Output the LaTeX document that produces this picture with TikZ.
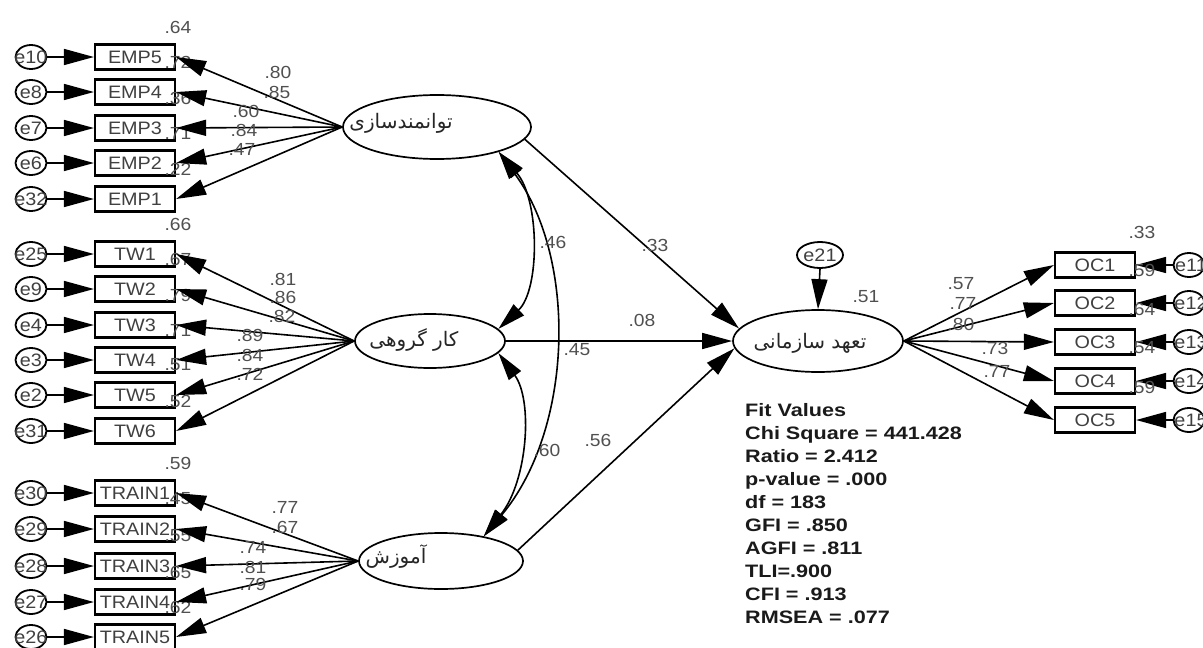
\documentclass[tikz,border=0pt]{standalone}
\usepackage{fontspec}
\setmainfont{Liberation Sans}[FakeStretch=1.1]
\newfontfamily\farsi[Script=Arabic]{DejaVu Sans}
\newfontfamily\fitfont{Liberation Sans}[FakeStretch=1.2]
\TeXXeTstate=1
\usetikzlibrary{arrows.meta,shapes.geometric}
\definecolor{lbl}{HTML}{505050}
\definecolor{txt}{HTML}{404040}
\definecolor{fitc}{HTML}{1a1a1a}
\begin{document}
\begin{tikzpicture}[x=1pt,y=-1pt,
 obs/.style={draw, line width=2.2pt, minimum width=80pt, minimum height=25pt, inner sep=0pt, font=\fontsize{18}{18}\selectfont, text=txt},
 err/.style={draw, ellipse, line width=1.8pt, minimum width=31pt, minimum height=24pt, inner sep=0pt},
 errtxt/.style={font=\fontsize{18}{18}\selectfont, text=txt, inner sep=0pt},
 lat/.style={draw, ellipse, line width=1.7pt, inner sep=0pt},
 fa/.style={font=\farsi\fontsize{20}{20}\selectfont, inner sep=0pt, text=black!85},
 num/.style={font=\fontsize{17.5}{17.5}\selectfont, text=lbl, inner sep=0pt},
 arr/.style={line width=1.6pt, -{Triangle[length=30pt,width=16pt]}},
 cov/.style={line width=1.6pt, {Triangle[length=28pt,width=15pt]}-{Triangle[length=28pt,width=15pt]}},
]
\useasboundingbox (0,0) rectangle (1203,648);
\fill[white] (0,0) rectangle (1203,648);

% latent variables
\node[lat, minimum width=188pt, minimum height=64pt] (emp) at (437,127) {};
\node[fa] (empt) at (401,123) {\beginR توانمندسازی\endR};
\node[lat, minimum width=150pt, minimum height=54pt] (tw) at (430,341) {};
\node[fa] (twt) at (414,340) {\beginR کار گروهی\endR};
\node[lat, minimum width=164pt, minimum height=56pt] (train) at (441,561) {};
\node[fa] (traint) at (396,557) {\beginR آموزش\endR};
\node[lat, minimum width=170pt, minimum height=62pt] (oc) at (818,341) {};
\node[fa] (oct) at (810,343) {\beginR تعهد سازمانی\endR};

% left indicators
\foreach \n/\t/\y/\e/\r in {emp5/EMP5/57/e10/.64, emp4/EMP4/92/e8/.72, emp3/EMP3/128/e7/.36, emp2/EMP2/163/e6/.71, emp1/EMP1/199/e32/.22,
  tw1/TW1/254/e25/.66, tw2/TW2/289/e9/.67, tw3/TW3/325/e4/.79, tw4/TW4/360/e3/.71, tw5/TW5/395/e2/.51, tw6/TW6/431/e31/.52,
  tr1/TRAIN1/493/e30/.59, tr2/TRAIN2/529/e29/.45, tr3/TRAIN3/566/e28/.55, tr4/TRAIN4/602/e27/.65, tr5/TRAIN5/637/e26/.62} {
  \node[num] (\n-r) at (178,\y-30) {\r};
  \node[obs] (\n) at (135,\y) {\t};
  \node[err] (\e) at (31,\y) {};
  \node[errtxt] (\e-t) at (31,\y) {\e};
  \draw[arr] (\e.east) -- (\n.west);
}

% right indicators
\foreach \n/\t/\y/\e/\r in {oc1/OC1/265/e11/.33, oc2/OC2/303/e12/.59, oc3/OC3/342/e13/.64, oc4/OC4/381/e14/.54, oc5/OC5/420/e15/.59} {
  \node[num] (\n-r) at (1142,\y-33) {\r};
  \node[obs] (\n) at (1095,\y) {\t};
  \node[err] (\e) at (1189,\y) {};
  \node[errtxt] (\e-t) at (1191,\y) {\e};
  \draw[arr] (\e.west) -- (\n.east);
}

% loadings
\foreach \n/\l/\lx/\ly in {emp5/.80/278/72, emp4/.85/277/92, emp3/.60/246/111, emp2/.84/244/130, emp1/.47/242/149} {
  \draw[arr] (emp.west) -- (\n.east);
  \node[num] (\n-l) at (\lx,\ly) {\l};
}
\foreach \n/\l/\lx/\ly in {tw1/.81/283/279, tw2/.86/283/297, tw3/.82/282/316, tw4/.89/250/335, tw5/.84/250/355, tw6/.72/250/374} {
  \draw[arr] (tw.west) -- (\n.east);
  \node[num] (\n-l) at (\lx,\ly) {\l};
}
\foreach \n/\l/\lx/\ly in {tr1/.77/285/507, tr2/.67/285/527, tr3/.74/253/547, tr4/.81/253/567, tr5/.79/253/584} {
  \draw[arr] (train.west) -- (\n.east);
  \node[num] (\n-l) at (\lx,\ly) {\l};
}
\foreach \n/\l/\lx/\ly in {oc1/.57/961/284, oc2/.77/963/303, oc3/.80/961/324, oc4/.73/995/348, oc5/.77/997/371} {
  \draw[arr] (oc.east) -- (\n.west);
  \node[num] (\n-l) at (\lx,\ly) {\l};
}

% structural paths
\draw[arr] (emp.-8) -- (oc.171);
\draw[arr] (tw.east) -- (oc.west);
\draw[arr] (train.8) -- (oc.185);
\node[num] (p1) at (655,245) {.33};
\node[num] (p2) at (642,320) {.08};
\node[num] (p3) at (598,440) {.56};

% disturbance
\node[err, minimum width=46pt, minimum height=26pt] (e21) at (820,255) {};
\node[errtxt] (e21-t) at (820,255) {e21};
\draw[arr] (e21.south) -- (oc.north);
\node[num] (oc-r) at (866,297) {.51};

% covariances
\draw[cov] (emp.-22) .. controls (540,200) and (540,290) .. (tw.10);
\draw[cov] (tw.-10) .. controls (533,400) and (528,480) .. (train.30);
\draw[cov] (emp.-22) .. controls (578,260) and (573,430) .. (train.30);
\node[num] (c1) at (553,242) {.46};
\node[num] (c2) at (577,350) {.45};
\node[num] (c3) at (547,450) {.60};

% fit values
\node[anchor=north west, align=left, inner sep=0pt, text=fitc,
  font=\fitfont\bfseries\fontsize{18}{23}\selectfont] (fitv) at (745,403)
  {Fit Values\\Chi Square = 441.428\\Ratio = 2.412\\p-value = .000\\df = 183\\GFI = .850\\AGFI = .811\\TLI=.900\\CFI = .913\\RMSEA = .077};
\end{tikzpicture}
\end{document}
